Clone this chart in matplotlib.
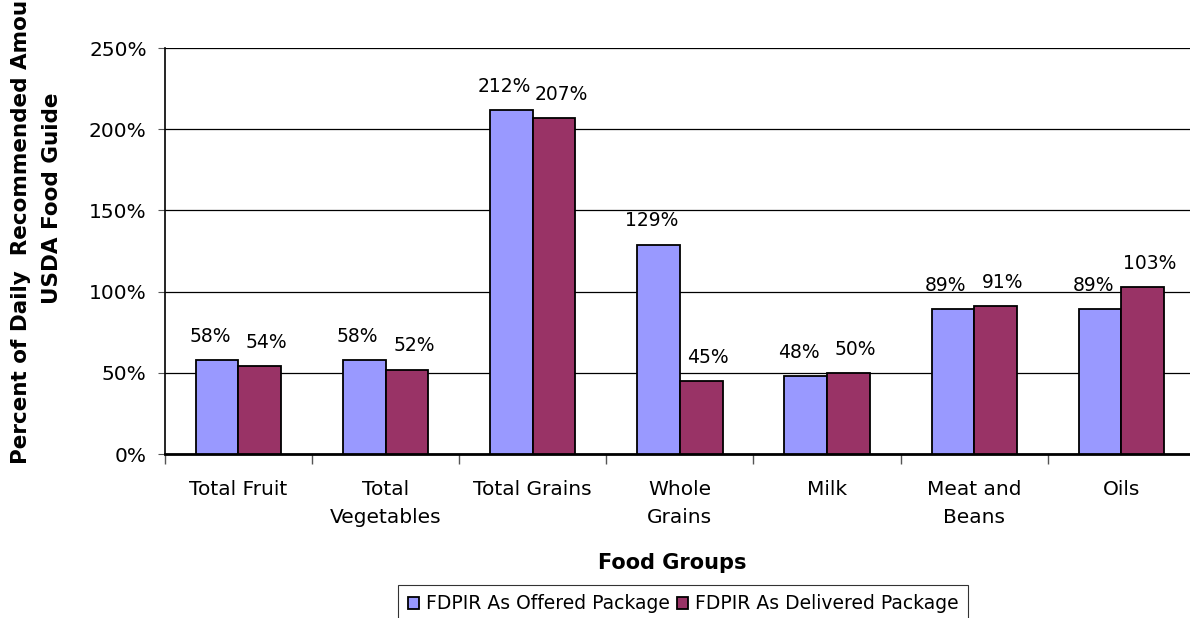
import numpy as np
import matplotlib
matplotlib.use("Agg")
import matplotlib.pyplot as plt
from matplotlib.ticker import FuncFormatter

# Food group data (percent of USDA recommended amounts)
categories = ["Total Fruit", "Total\nVegetables", "Total Grains", "Whole\nGrains",
              "Milk", "Meat and\nBeans", "Oils"]
offered = [58, 58, 212, 129, 48, 89, 89]
delivered = [54, 52, 207, 45, 50, 91, 103]
series_names = ["FDPIR As Offered Package", "FDPIR As Delivered Package"]
y_ticks = [0, 50, 100, 150, 200, 250]

plt.rcParams['font.family'] = ['DejaVu Sans']

fig = plt.figure(figsize=(11.9, 6.18), dpi=100)
# plot area runs past the right edge, like the original
ax = fig.add_axes([164.8 / 1190, 1 - 454 / 618, (1195 - 164.8) / 1190, (454 - 48) / 618])

x = np.arange(len(categories))
w = 0.29
b1 = ax.bar(x - w / 2, offered, w, color="#9999FF", edgecolor="black", linewidth=1.3,
            label=series_names[0], zorder=3)
b2 = ax.bar(x + w / 2, delivered, w, color="#993366", edgecolor="black", linewidth=1.3,
            label=series_names[1], zorder=3)

# value labels: offered nudged left, delivered nudged right (as in the original)
for bars, vals, dx in ((b1, offered, -5), (b2, delivered, 5)):
    for rect, v in zip(bars, vals):
        ax.annotate(f"{v}%", (rect.get_x() + rect.get_width() / 2, v),
                    xytext=(dx, 17), textcoords="offset points",
                    ha="center", va="center", fontsize=13.5)

ax.set_xlim(-0.5, len(categories) - 0.5)
ax.set_ylim(0, 250)
ax.set_yticks(y_ticks)
ax.yaxis.set_major_formatter(FuncFormatter(lambda v, p: f"{v:.0f}%"))
ax.yaxis.grid(True, color="black", linewidth=0.9, zorder=0)
ax.tick_params(axis="y", labelsize=14.5, length=5, width=0.8, color="#555555", pad=8)

# ticks between groups, labels at group centres
ax.set_xticks(np.arange(len(categories) + 1) - 0.5)
ax.set_xticklabels([])
ax.set_xticks(x, minor=True)
ax.set_xticklabels(categories, minor=True, fontsize=14.5, linespacing=1.6, va="top")
ax.tick_params(axis="x", which="major", length=7, width=1, color="#555555")
ax.tick_params(axis="x", which="minor", length=0, pad=19)

for s in ("top", "right"):
    ax.spines[s].set_visible(False)
ax.spines["left"].set_linewidth(1.2)
ax.spines["bottom"].set_linewidth(2)

ax.set_xlabel("Food Groups", fontsize=15, fontweight="bold", va="center")
ax.xaxis.set_label_coords((672 - 164.8) / (1195 - 164.8), -(563 - 454) / 406)
ax.set_ylabel("Percent of Daily  Recommended Amounts in\nUSDA Food Guide",
              fontsize=15.5, fontweight="bold", linespacing=1.72, va="center")
ax.yaxis.set_label_coords(-(164.8 - 36.5) / (1195 - 164.8), (454 - 198) / 406)

leg = fig.legend(loc="upper center", bbox_to_anchor=(683 / 1190, 1 - 585 / 618),
                 ncol=2, fontsize=13.5, frameon=True, fancybox=False,
                 handlelength=0.6, handleheight=0.6, handletextpad=0.35,
                 columnspacing=0.4, borderpad=0.5, borderaxespad=0)
leg.get_frame().set_edgecolor("black")
leg.get_frame().set_linewidth(0.8)

fig.savefig("out.png", dpi=100)
